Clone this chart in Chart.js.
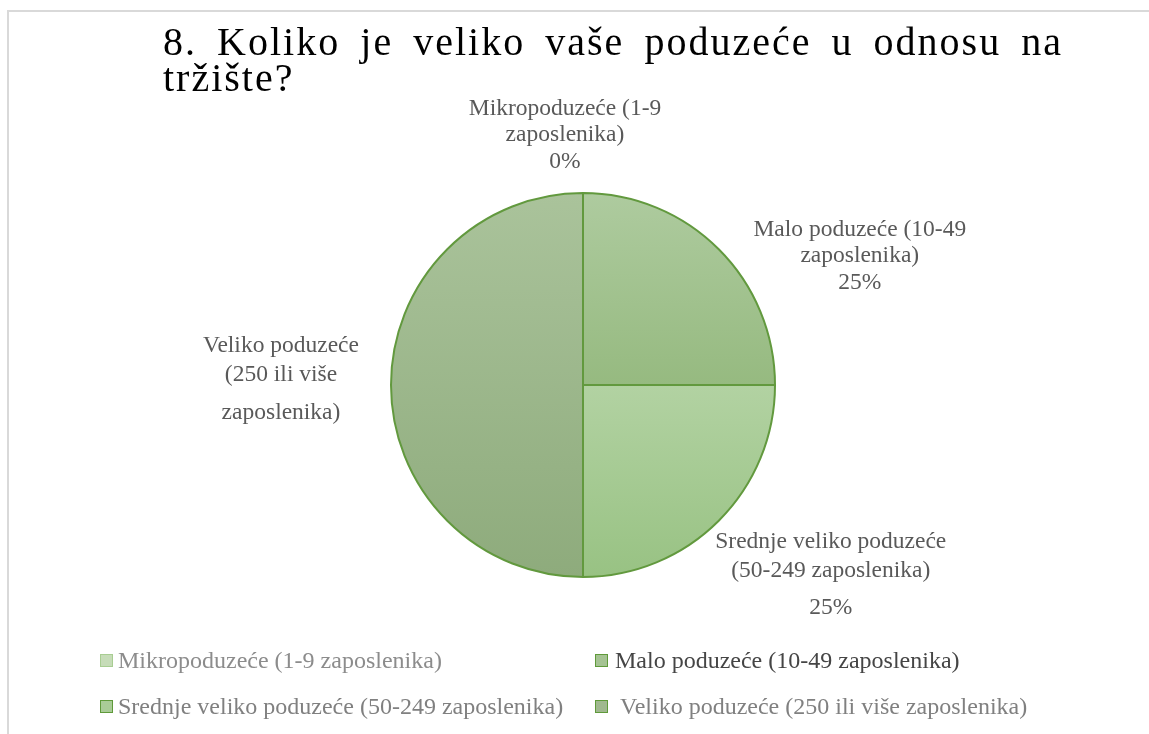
<!DOCTYPE html>
<html>
<head>
<meta charset="utf-8">
<script src="https://cdn.jsdelivr.net/npm/chart.js@4"></script>
<style>
  body { margin: 0; background: #fff; }
  #wrap { position: relative; width: 1149px; height: 734px; overflow: hidden; }
  #frame { position: absolute; left: 7px; top: 10px; right: -10px; bottom: -10px;
           border-top: 2px solid #d9d9d9; border-left: 2px solid #d9d9d9; }
  canvas { position: absolute; left: 0; top: 0; }
  #legend { position: absolute; left: 100px; top: 648px; width: 1000px;
            display: grid; grid-template-columns: 495px 500px; row-gap: 22px;
            font-family: "Liberation Serif", "Times New Roman", serif; font-size: 24px; }
  #legend .item { display: flex; align-items: center; height: 24px; white-space: nowrap; }
  #legend .box { width: 11px; height: 11px; border: 1.5px solid; margin-right: 5px; flex: none; }
</style>
</head>
<body>
<div id="wrap">
  <div id="frame"></div>
  <canvas id="pieChart" width="1149" height="734"></canvas>
  <div id="legend"></div>
</div>
<script>
// data
const categories = [
  'Mikropoduzeće (1-9 zaposlenika)',
  'Malo poduzeće (10-49 zaposlenika)',
  'Srednje veliko poduzeće (50-249 zaposlenika)',
  'Veliko poduzeće (250 ili više zaposlenika)'
];
const shares = [0, 25, 25, 50];
// how the data labels wrap, and whether they show the percentage
const labelLines = [
  ['Mikropoduzeće (1-9', 'zaposlenika)'],
  ['Malo poduzeće (10-49', 'zaposlenika)'],
  ['Srednje veliko poduzeće', '(50-249 zaposlenika)'],
  ['Veliko poduzeće', '(250 ili više', 'zaposlenika)']
];
const showPercent = [true, true, true, false];
const titleLines = ['8. Koliko je veliko vaše poduzeće u odnosu na', 'tržište?'];

// styles
const gradTop = ['#c7ddb9', '#aecb9f', '#b2d2a2', '#aac39b'];
const gradBottom = ['#b5d0a3', '#96ba80', '#98c283', '#8eab7c'];
const legendFill = ['#c6dcb8', '#a5c393', '#a9cc97', '#a0b88f'];
const legendBorder = ['#a8cd92', '#5f9a3a', '#5f9a3a', '#5f9a3a'];
const legendText = ['#8c8c8c', '#454545', '#808080', '#808080'];
const legendGap = [5, 7, 5, 12];
// label placement relative to the middle of each slice's rim: dx, dy of first line, line height, extra gap before last line
const labelPos = [
  { dx: -18, dy: -84, lh: 26, gap: 1 },
  { dx: 141, dy: -19, lh: 26, gap: 1 },
  { dx: 112, dy: 21, lh: 29, gap: 8 },
  { dx: -110, dy: -39, lh: 29, gap: 9 }
];
const serif = '"Liberation Serif", "Times New Roman", serif';
const titleSize = 40;
const titleRight = 1063; // the first title line is justified up to here

// y-range of a slice, worked out from the data and the chart area
function sliceRange(chart, i) {
  const a = chart.chartArea;
  const cy = (a.top + a.bottom) / 2;
  const r = Math.min(a.right - a.left, a.bottom - a.top) / 2;
  const total = shares.reduce((s, v) => s + v, 0);
  let before = 0;
  for (let k = 0; k < i; k++) before += shares[k];
  const a0 = -Math.PI / 2 + before / total * 2 * Math.PI;
  const a1 = a0 + shares[i] / total * 2 * Math.PI;
  let ys = [cy, cy + r * Math.sin(a0), cy + r * Math.sin(a1)];
  if (a0 <= -Math.PI / 2 && a1 >= -Math.PI / 2) ys.push(cy - r);
  if (a0 <= Math.PI / 2 && a1 >= Math.PI / 2) ys.push(cy + r);
  if (a0 <= 1.5 * Math.PI && a1 >= 1.5 * Math.PI) ys.push(cy - r);
  return [Math.min(...ys), Math.max(...ys)];
}

const sliceLabels = {
  id: 'sliceLabels',
  afterDatasetsDraw(chart) {
    const ctx = chart.ctx;
    const meta = chart.getDatasetMeta(0);
    const total = shares.reduce((s, v) => s + v, 0);
    ctx.save();
    ctx.font = '23.5px ' + serif;
    ctx.fillStyle = '#595959';
    ctx.textAlign = 'center';
    ctx.textBaseline = 'middle';
    meta.data.forEach((arc, i) => {
      const p = arc.getProps(['x', 'y', 'startAngle', 'endAngle', 'outerRadius'], true);
      const mid = (p.startAngle + p.endAngle) / 2;
      const ax = p.x + Math.cos(mid) * p.outerRadius;
      const ay = p.y + Math.sin(mid) * p.outerRadius;
      const pos = labelPos[i];
      const lines = labelLines[i].slice();
      if (showPercent[i]) lines.push(Math.round(shares[i] / total * 100) + '%');
      lines.forEach((t, j) => {
        let y = ay + pos.dy + j * pos.lh;
        if (j === lines.length - 1) y += pos.gap;
        ctx.fillText(t, ax + pos.dx, y);
      });
    });
    ctx.restore();
  }
};

// justify the first title line like the original
const spacedTitle = {
  id: 'spacedTitle',
  afterInit(chart) {
    const tb = chart.titleBlock;
    const orig = tb.draw.bind(tb);
    tb.draw = function () {
      const c = chart.ctx;
      c.save();
      c.font = titleSize + 'px ' + serif;
      c.letterSpacing = '2px';
      c.wordSpacing = '0px';
      const w0 = c.measureText(titleLines[0]).width;
      const spaces = titleLines[0].split(' ').length - 1;
      c.wordSpacing = Math.max(0, (titleRight - tb.left - w0) / spaces) + 'px';
      const right = tb.right;
      tb.right = titleRight;
      orig();
      tb.right = right;
      c.restore();
    };
  }
};

const chart = new Chart(document.getElementById('pieChart'), {
  type: 'pie',
  data: {
    labels: categories,
    datasets: [{
      data: shares,
      backgroundColor(c) {
        const area = c.chart.chartArea;
        if (!area) return gradBottom[c.dataIndex];
        const [y0, y1] = sliceRange(c.chart, c.dataIndex);
        const g = c.chart.ctx.createLinearGradient(0, y0, 0, Math.max(y1, y0 + 1));
        g.addColorStop(0, gradTop[c.dataIndex]);
        g.addColorStop(1, gradBottom[c.dataIndex]);
        return g;
      },
      borderColor: '#62993e',
      borderWidth: 2
    }]
  },
  options: {
    responsive: false,
    animation: false,
    layout: { padding: { left: 163, right: 146, top: 0, bottom: 156 } },
    plugins: {
      legend: { display: false },
      tooltip: { enabled: false },
      title: {
        display: true,
        text: titleLines,
        align: 'start',
        color: '#000',
        font: { family: serif, size: titleSize, weight: 'normal', lineHeight: 0.9 },
        padding: { top: 26, bottom: 94 }
      }
    }
  },
  plugins: [sliceLabels, spacedTitle]
});

// legend in a 2 x 2 grid like the original
const legendEl = document.getElementById('legend');
categories.forEach((name, i) => {
  const item = document.createElement('div');
  item.className = 'item';
  const box = document.createElement('span');
  box.className = 'box';
  box.style.background = legendFill[i];
  box.style.borderColor = legendBorder[i];
  box.style.marginRight = legendGap[i] + 'px';
  const txt = document.createElement('span');
  txt.textContent = name;
  txt.style.color = legendText[i];
  item.appendChild(box);
  item.appendChild(txt);
  legendEl.appendChild(item);
});
</script>
</body>
</html>
